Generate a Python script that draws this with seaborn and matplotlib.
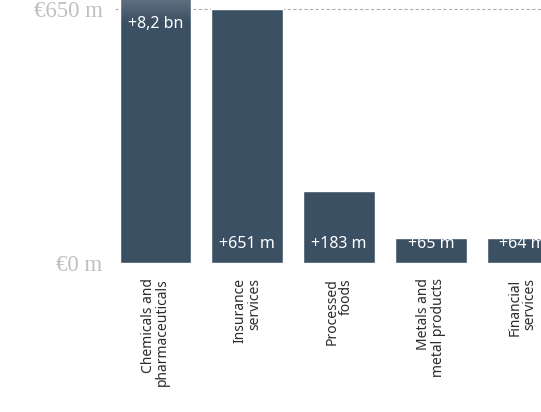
import numpy as np
import matplotlib
matplotlib.use('Agg')
import matplotlib.pyplot as plt
import pandas as pd
import seaborn as sns

# chart data (EUR millions)
sectors = ['Chemicals and\npharmaceuticals', 'Insurance\nservices', 'Processed\nfoods',
           'Metals and\nmetal products', 'Financial\nservices']
values = [8200, 651, 183, 65, 64]
value_labels = ['+8,2 bn', '+651 m', '+183 m', '+65 m', '+64 m']
ytick_values = [0, 650]
ytick_labels = ['€0 m', '€650 m']

BAR_COLOR = '#3c5064'

sns.set_theme(style='white')
plt.rcParams['font.family'] = ['Noto Sans', 'DejaVu Sans']

df = pd.DataFrame({'sector': sectors, 'value': values})

fig = plt.figure(figsize=(5.41, 4.12), dpi=100)
ax = fig.add_axes([115 / 541, (412 - 263) / 412, 1 - 115 / 541, 263 / 412])

sns.barplot(data=df, x='sector', y='value', color=BAR_COLOR, saturation=1,
            width=0.78, ax=ax)

ymax = 650 * 263 / 254

# dashed reference lines
for v in ytick_values:
    ax.axhline(v, color='#b0b0b0', lw=0.8, ls=(0, (3, 2)), zorder=0)

ax.set_yticks(ytick_values)
ax.set_yticklabels(ytick_labels, family=['Liberation Serif', 'DejaVu Serif'],
                   fontsize=16.5, color='#c0c0c0')
ax.tick_params(axis='y', length=0, pad=9)
ax.tick_params(axis='x', length=0, pad=11)
ax.set_xticks(range(len(sectors)))
ax.set_xticklabels(sectors, rotation=90, fontsize=10, color='#2b2b2b',
                   va='top', ha='center', multialignment='right', linespacing=0.95)
ax.set_xlabel('')
ax.set_ylabel('')
sns.despine(ax=ax, left=True, bottom=True, top=True, right=True)

# fade at the top of the clipped bar
p = ax.patches[0]
x0, w = p.get_x(), p.get_width()
rgba = np.zeros((50, 1, 4))
rgba[..., :3] = 1
rgba[..., 3] = np.linspace(1, 0, 50).reshape(-1, 1) * 0.18
ax.imshow(rgba, extent=(x0, x0 + w, ymax - 60, ymax), aspect='auto',
          origin='upper', zorder=3)
ax.set_xlim(-0.44, 4.2)
ax.set_ylim(0, ymax)

# value labels
for i, (v, lab) in enumerate(zip(values, value_labels)):
    if v > ymax:
        ax.annotate(lab, xy=(i, ymax), xytext=(0, -24 * 72 / 100), textcoords='offset points',
                    ha='center', va='center', color='white', fontsize=11.5, zorder=4)
    else:
        ax.annotate(lab, xy=(i, 0), xytext=(0, 19 * 72 / 100), textcoords='offset points',
                    ha='center', va='center', color='white', fontsize=11.5, zorder=4)

fig.savefig('out.png', dpi=100)
